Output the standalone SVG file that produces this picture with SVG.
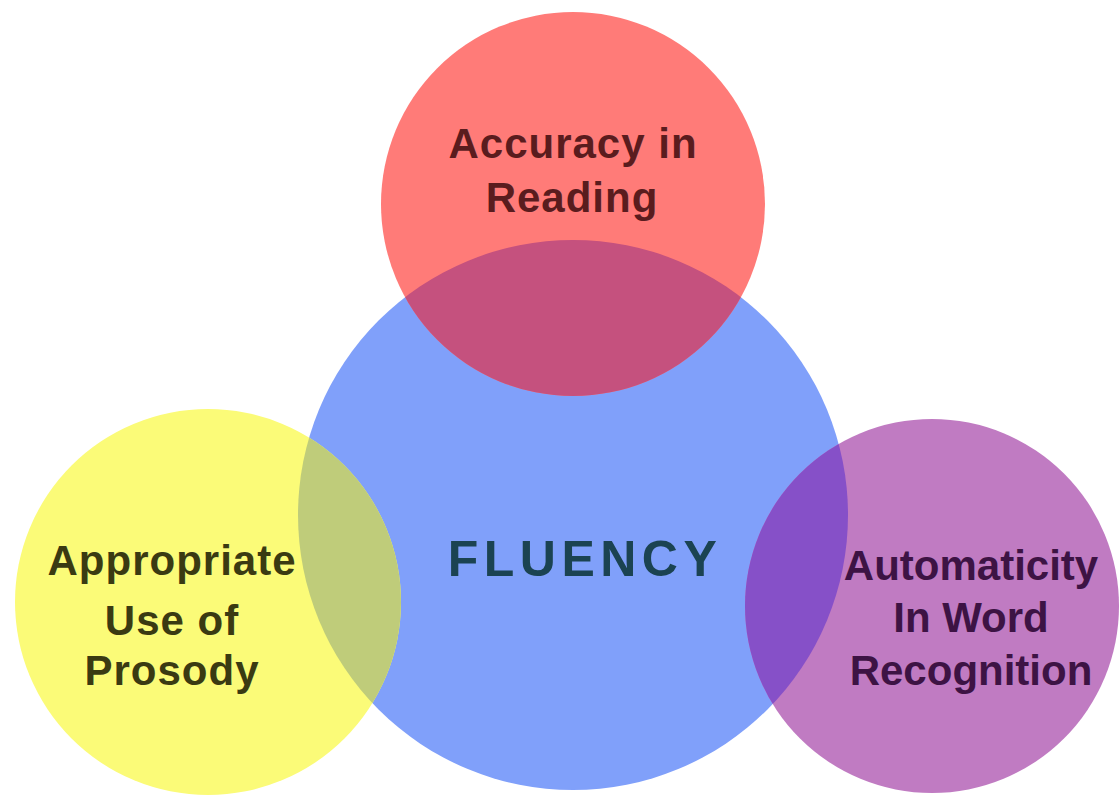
<svg xmlns="http://www.w3.org/2000/svg" width="1119" height="795" viewBox="0 0 1119 795">
  <style>
    .lbl { font-family: "Liberation Sans", Arial, sans-serif; font-weight: bold; font-size: 42px; text-anchor: middle; }
    .red-t { fill: #5a1c1e; letter-spacing: 1px; }
    .yel-t { fill: #3a3a12; letter-spacing: 1px; }
    .pur-t { fill: #3d1344; }
    .flu-t { fill: #1b4352; font-size: 50px; letter-spacing: 5.5px; }
  </style>
  <defs>
    <clipPath id="clipBlue">
      <circle cx="573" cy="515" r="275"/>
    </clipPath>
  </defs>
  <rect width="1119" height="795" fill="#ffffff"/>

  <g id="fluency">
    <circle cx="573" cy="515" r="275" fill="#80a0fa"/>
  </g>
  <g id="accuracy">
    <circle cx="573" cy="204" r="192" fill="#ff7b78"/>
    <circle cx="573" cy="204" r="192" fill="#c5517e" clip-path="url(#clipBlue)"/>
    <text class="lbl red-t" x="573" y="158">Accuracy in</text>
    <text class="lbl red-t" x="572" y="212">Reading</text>
  </g>
  <g id="prosody">
    <circle cx="208" cy="602" r="193" fill="#fbfb78"/>
    <circle cx="208" cy="602" r="193" fill="#bfcc7a" clip-path="url(#clipBlue)"/>
    <text class="lbl yel-t" x="172" y="575">Appropriate</text>
    <text class="lbl yel-t" x="172" y="635">Use of</text>
    <text class="lbl yel-t" x="172" y="685">Prosody</text>
  </g>
  <g id="automaticity">
    <circle cx="932" cy="606" r="187" fill="#c07bc2"/>
    <circle cx="932" cy="606" r="187" fill="#8650c8" clip-path="url(#clipBlue)"/>
    <text class="lbl pur-t" x="971" y="580">Automaticity</text>
    <text class="lbl pur-t" x="971" y="632">In Word</text>
    <text class="lbl pur-t" x="971" y="685">Recognition</text>
  </g>
  <g id="fluency-label">
    <text class="lbl flu-t" x="585" y="576">FLUENCY</text>
  </g>
  <g id="connectors"/>
</svg>
